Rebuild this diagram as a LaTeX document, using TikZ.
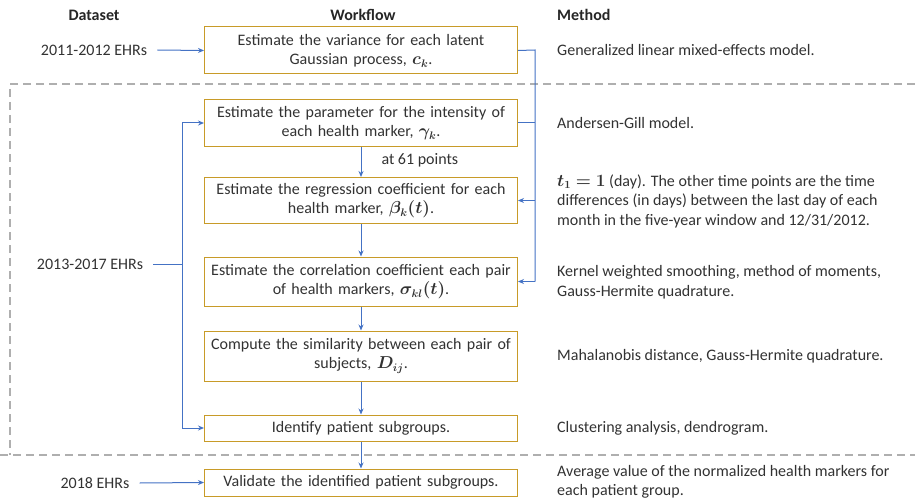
\documentclass[tikz,border=0pt]{standalone}
\usepackage{fontspec}
\setmainfont{Carlito}
\usepackage{bm}
\usetikzlibrary{arrows.meta}
\definecolor{boxgold}{RGB}{200,155,40}
\definecolor{flowblue}{RGB}{68,114,196}
\definecolor{sepgray}{RGB}{175,175,175}
\definecolor{ink}{RGB}{50,50,50}
\tikzset{
  stepbox/.style={draw=boxgold, line width=1pt, minimum width=313pt, text width=305pt,
    align=center, inner sep=0pt, text=ink, font=\fontsize{16}{19.5}\selectfont},
  flow/.style={draw=flowblue, line width=1pt},
  flowarrow/.style={flow, -{Stealth[length=6pt,width=5pt]}},
  plain/.style={inner sep=0pt, text=ink, font=\fontsize{16}{19.5}\selectfont},
  methodtext/.style={plain, anchor=west, align=left},
  header/.style={inner sep=0pt, text=black!85, font=\fontsize{16}{19}\selectfont\bfseries},
  sep/.style={draw=sepgray, line width=1.1pt, dash pattern=on 8pt off 5pt}
}
\begin{document}
\begin{tikzpicture}[x=1pt, y=-1pt]
\useasboundingbox (0,0) rectangle (915,500);

% column headers
\node[header] (hd) at (94,15) {Dataset};
\node[header] (hw) at (363,15) {Workflow};
\node[header, anchor=west] (hm) at (557,15) {Method};

% dashed frame around the 2013-2017 stage
\draw[sep] (915,84) -- (10,84) -- (10,455);
\draw[sep] (0,455) -- (915,455);

% workflow steps
\node[stepbox, minimum height=47pt] (b1) at (361,50.5)
  {Estimate the variance for each latent\\Gaussian process, $\bm{c_k}$.};
\node[stepbox, minimum height=47pt] (b2) at (361,123)
  {Estimate the parameter for the intensity of\\each health marker, $\bm{\gamma_k}$.};
\node[stepbox, minimum height=46pt] (b3) at (361,200.5)
  {Estimate the regression coefficient for each\\health marker, $\bm{\beta_k(t)}$.};
\node[stepbox, minimum height=49pt] (b4) at (361,281.5)
  {Estimate the correlation coefficient each pair\\of health markers, $\bm{\sigma_{kl}(t)}$.};
\node[stepbox, minimum height=50pt] (b5) at (361,356)
  {Compute the similarity between each pair of\\subjects, $\bm{D_{ij}}$.};
\node[stepbox, minimum height=26pt] (b6) at (361,428)
  {Identify patient subgroups.};
\node[stepbox, minimum height=27pt] (b7) at (361,482.5)
  {Validate the identified patient subgroups.};

% datasets
\node[plain] (d1) at (94,50) {2011-2012 EHRs};
\node[plain] (d2) at (90,264) {2013-2017 EHRs};
\node[plain] (d3) at (95,483) {2018 EHRs};

% methods
\node[methodtext] (m1) at (557,50) {Generalized linear mixed-effects model.};
\node[methodtext] (m2) at (557,123) {Andersen-Gill model.};
\node[methodtext] (m3) at (557,201)
  {$\bm{t_1=1}$ (day). The other time points are the time\\differences (in days) between the last day of each\\month in the five-year window and 12/31/2012.};
\node[methodtext] (m4) at (557,282)
  {Kernel weighted smoothing, method of moments,\\Gauss-Hermite quadrature.};
\node[methodtext] (m5) at (557,356) {Mahalanobis distance, Gauss-Hermite quadrature.};
\node[methodtext] (m6) at (557,428) {Clustering analysis, dendrogram.};
\node[methodtext] (m7) at (557,482) {Average value of the normalized health markers for\\each patient group.};

% routing points
\coordinate (L) at (182,264);
\coordinate (R) at (535,50);

% dataset inputs
\draw[flowarrow] ([xshift=10pt]d1.east) -- (b1.west);
\draw[flowarrow] ([xshift=10pt]d3.east) -- (b7.west);
\draw[flow] ([xshift=10pt]d2.east) -- (L);
\draw[flow] (L |- b2.west) -- (L |- b6.west);
\draw[flowarrow] (L |- b2.west) -- (b2.west);
\draw[flowarrow] (L |- b6.west) -- (b6.west);

% feedback from the first two steps
\draw[flow] (b1.east) -- (R) -- (R |- b4.east);
\draw[flow] (b2.east) -- (R |- b2.east);
\draw[flowarrow] (R |- b3.east) -- (b3.east);
\draw[flowarrow] (R |- b4.east) -- (b4.east);

% main chain
\draw[flowarrow] (b2) -- node[plain, anchor=west, pos=0.45, xshift=20pt] (lbl) {at 61 points} (b3);
\draw[flowarrow] (b3) -- (b4);
\draw[flowarrow] (b4) -- (b5);
\draw[flowarrow] (b5) -- (b6);
\draw[flowarrow] (b6) -- (b7);
\end{tikzpicture}
\end{document}
